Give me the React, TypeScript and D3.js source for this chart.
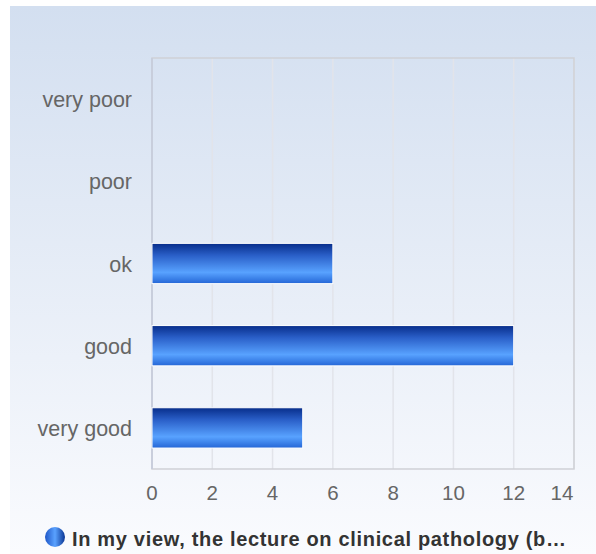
import React from "react";
import * as d3 from "d3";

const categories = ["very poor", "poor", "ok", "good", "very good"];
const values = [0, 0, 6, 12, 5];
const xTicks = [0, 2, 4, 6, 8, 10, 12, 14];
const seriesName = "In my view, the lecture on clinical pathology (b…";

const W = 596;
const H = 554;
const plot = { left: 152, top: 58, right: 574, bottom: 469 };

export default function App() {
  const x = d3.scaleLinear().domain([0, 14]).range([plot.left, plot.right]);
  const y = d3
    .scaleBand<string>()
    .domain(categories)
    .range([plot.top, plot.bottom])
    .paddingInner(0.51)
    .paddingOuter(0.255);
  const font = "'Liberation Sans', Arial, sans-serif";
  return (
    <svg
      width={W}
      height={H}
      style={{ position: "absolute", left: 0, top: 0 }}
      fontFamily={font}
    >
      <defs>
        <linearGradient id="bg" x1="0" y1="0" x2="0" y2="1">
          <stop offset="0%" stopColor="#d3dff0" />
          <stop offset="100%" stopColor="#fafbfe" />
        </linearGradient>
        <linearGradient id="bar" x1="0" y1="0" x2="0" y2="1">
          <stop offset="0%" stopColor="#072d8a" />
          <stop offset="30%" stopColor="#2a5fc8" />
          <stop offset="72%" stopColor="#58a2ff" />
          <stop offset="100%" stopColor="#2466d6" />
        </linearGradient>
        <linearGradient id="dot" x1="0" y1="0" x2="1" y2="0">
          <stop offset="0%" stopColor="#1f57c8" />
          <stop offset="50%" stopColor="#5aa2ff" />
          <stop offset="100%" stopColor="#0a3593" />
        </linearGradient>
      </defs>
      <rect x={10} y={6} width={W - 10} height={H - 6} fill="url(#bg)" />
      {xTicks.map((t) => (
        <line
          key={"g" + t}
          x1={x(t)}
          x2={x(t)}
          y1={plot.top}
          y2={plot.bottom}
          stroke="#e2e4ea"
          strokeWidth={1.5}
        />
      ))}
      <rect
        x={plot.left}
        y={plot.top}
        width={plot.right - plot.left}
        height={plot.bottom - plot.top}
        fill="none"
        stroke="#cfd1d6"
        strokeWidth={1.5}
      />
      <line
        x1={plot.left}
        x2={plot.left}
        y1={plot.top}
        y2={plot.bottom}
        stroke="#c4cbdc"
        strokeWidth={1.5}
      />
      {categories.map((c, i) =>
        values[i] > 0 ? (
          <rect
            key={"b" + c}
            x={x(0)}
            y={y(c)!}
            width={x(values[i]) - x(0)}
            height={y.bandwidth()}
            fill="url(#bar)"
            stroke="#ffffff"
            strokeWidth={1}
          />
        ) : null
      )}
      {categories.map((c) => (
        <text
          key={"l" + c}
          x={132}
          y={y(c)! + y.bandwidth() / 2}
          dy="0.38em"
          textAnchor="end"
          fontSize={21.5}
          fill="#666666"
        >
          {c}
        </text>
      ))}
      {xTicks.map((t, i) => (
        <text
          key={"t" + t}
          x={i === xTicks.length - 1 ? x(t) - 12 : x(t)}
          y={500}
          textAnchor="middle"
          fontSize={20.5}
          fill="#666666"
        >
          {t}
        </text>
      ))}
      <circle cx={55} cy={537} r={10} fill="url(#dot)" />
      <text
        x={72}
        y={546}
        fontSize={20}
        fontWeight="bold"
        fill="#333333"
        textLength={494}
        lengthAdjust="spacing"
      >
        {seriesName}
      </text>
    </svg>
  );
}
